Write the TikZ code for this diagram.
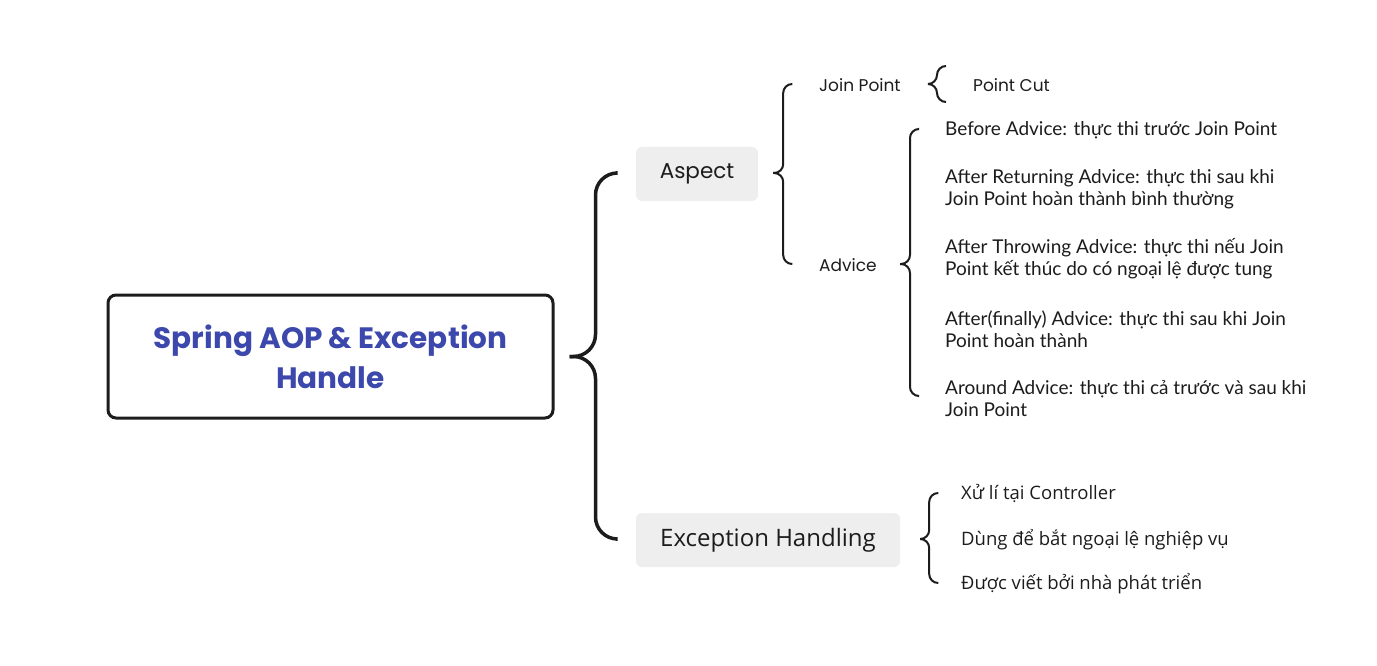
\documentclass[tikz,border=0pt]{standalone}
\usepackage{fontspec}
\setmainfont{Lato}
\newfontfamily\titlefont{Poppins}
\newfontfamily\excfont{Open Sans}
\usetikzlibrary{positioning,calc}
\definecolor{titleblue}{RGB}{60,72,172}
\definecolor{boxgray}{RGB}{238,238,238}
\definecolor{ink}{RGB}{28,28,28}
\begin{document}
\begin{tikzpicture}
    [
    x=1pt,y=-1pt,
    root/.style={draw=ink,line width=3pt,rounded corners=8pt,minimum width=445pt,minimum height=123pt,align=center,text=titleblue,font=\titlefont\bfseries\fontsize{29.5}{40}\selectfont},
    topic/.style={fill=boxgray,rounded corners=6pt,minimum height=54pt,inner sep=0pt,text=ink},
    sub/.style={anchor=west,inner sep=0pt,text=ink,font=\titlefont\fontsize{17}{22}\selectfont},
    leaf/.style={anchor=west,inner sep=0pt,align=left,text=ink,font=\fontsize{19}{22}\selectfont},
    excleaf/.style={anchor=west,inner sep=0pt,text=ink,font=\excfont\fontsize{18.5}{22}\selectfont},
    bigbrace/.style={draw=ink,line width=3.5pt,rounded corners=22pt},
    brace/.style={draw=ink,line width=2pt,rounded corners=9pt}
    ]
    \useasboundingbox (0,0) rectangle (1377,666);
    \node (root) at (330.5,356.5) [root] {Spring AOP \& Exception\\Handle};
    \node (aspect) at (697,174) [topic,minimum width=122pt,font=\titlefont\fontsize{21.5}{24}\selectfont] {Aspect};
    \node (exc) at (768,540) [topic,minimum width=264pt,font=\excfont\fontsize{24}{25}\selectfont] {Exception Handling};
    \node (joinpoint) at (819,85) [sub] {Join Point};
    \node (advice) at (819,265) [sub] {Advice};
    \node (pointcut) at (973,85) [sub] {Point Cut};
    \node (before) at (945,130) [leaf] {Before Advice: thực thi trước Join Point};
    \node (returning) at (945,189) [leaf] {After Returning Advice: thực thi sau khi\\Join Point hoàn thành bình thường};
    \node (throwing) at (945,259) [leaf] {After Throwing Advice: thực thi nếu Join\\Point kết thúc do có ngoại lệ được tung};
    \node (finally) at (945,329) [leaf] {After(finally) Advice: thực thi sau khi Join\\Point hoàn thành};
    \node (around) at (945,399) [leaf] {Around Advice: thực thi cả trước và sau khi\\Join Point};
    \node (controller) at (961,494) [excleaf] {Xử lí tại Controller};
    \node (business) at (961,540) [excleaf] {Dùng để bắt ngoại lệ nghiệp vụ};
    \node (developer) at (961,584) [excleaf] {Được viết bởi nhà phát triển};
    % brace tips and ends
    \coordinate (rootTip) at ($(root.east)+(15,0)$);
    \coordinate (aspectEnd) at ($(aspect.west)+(-20,-1)$);
    \coordinate (excEnd) at ($(exc.west)+(-20,-1)$);
    \coordinate (aspectTip) at ($(aspect.east)+(15,-1)$);
    \coordinate (jpEnd) at ($(joinpoint.west)+(-27,-1)$);
    \coordinate (adviceEnd) at ($(advice.west)+(-27,-1)$);
    \coordinate (jpTip) at ($(joinpoint.west)+(109,-1)$);
    \coordinate (pcTop) at ($(pointcut.west)+(-27,-19)$);
    \coordinate (pcBottom) at ($(pointcut.west)+(-27,17)$);
    \coordinate (adviceTip) at ($(advice.west)+(81,-1)$);
    \coordinate (beforeEnd) at ($(before.west)+(-27,-1)$);
    \coordinate (aroundEnd) at ($(around.west)+(-27,-3)$);
    \coordinate (excTip) at ($(exc.east)+(20,-1)$);
    \coordinate (controllerEnd) at ($(controller.west)+(-23,-1)$);
    \coordinate (developerEnd) at ($(developer.west)+(-23,-1)$);
    \draw [bigbrace] (rootTip) -- ++(26,0) |- (aspectEnd);
    \draw [bigbrace] (rootTip) -- ++(26,0) |- (excEnd);
    \draw [brace] (aspectTip) -- ++(10,0) |- (jpEnd);
    \draw [brace] (aspectTip) -- ++(10,0) |- (adviceEnd);
    \draw [brace] (jpTip) -- ++(9,0) |- (pcTop);
    \draw [brace] (jpTip) -- ++(9,0) |- (pcBottom);
    \draw [brace] (adviceTip) -- ++(10,0) |- (beforeEnd);
    \draw [brace] (adviceTip) -- ++(10,0) |- (aroundEnd);
    \draw [brace] (excTip) -- ++(9,0) |- (controllerEnd);
    \draw [brace] (excTip) -- ++(9,0) |- (developerEnd);
  \end{tikzpicture}
\end{document}
